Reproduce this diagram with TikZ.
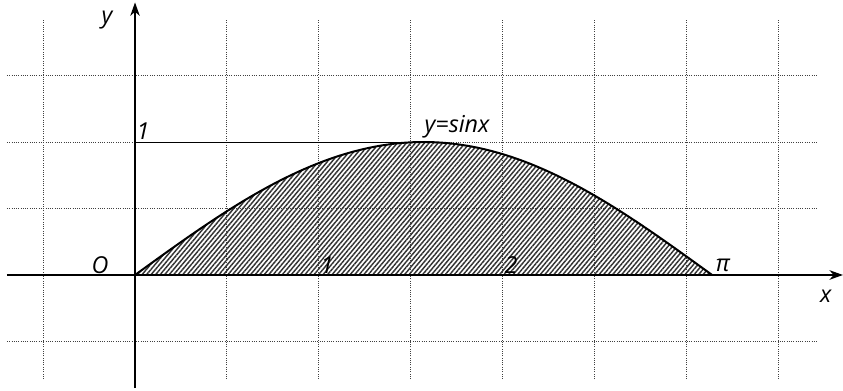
\documentclass[tikz,border=0pt]{standalone}
\usepackage{fontspec}
\setmainfont{Open Sans}
\usetikzlibrary{arrows.meta,patterns.meta}

\begin{document}
\begin{tikzpicture}[x=137.8pt, y=99.75pt,
  rejilla/.style={densely dotted, line width=0.7pt, black!75},
  eje/.style={-{Stealth[length=10pt,width=7pt,inset=3pt]}, line width=2.1pt},
  curva/.style={line width=1.5pt},
  rayado/.style={pattern={Lines[angle=50, distance=2.6pt, line width=1.1pt]}, pattern color=black!80},
  etiqueta/.style={font=\fontsize{17.5}{20}\selectfont\itshape, inner sep=0pt}]
\useasboundingbox (-0.735,-0.865) rectangle (3.854,2.068);
\foreach \i in {-0.5,0.5,1,1.5,2,2.5,3,3.5}
  \draw[rejilla] (\i,-0.782) -- (\i,1.917);
\foreach \j in {-0.5,0.5,1,1.5}
  \draw[rejilla] (-0.697,\j) -- (3.718,\j);
\fill[rayado] plot[domain=0:pi, samples=80, smooth] (\x,{sin(\x r)}) -- cycle;
\coordinate (origen) at (0,0);
\coordinate (cima) at ({pi/2},1);
\coordinate (uno) at (0,1);
\draw[line width=0.7pt] (uno) -- (cima);
\draw[curva] plot[domain=0:pi, samples=80, smooth] (\x,{sin(\x r)});
\coordinate (xini) at (-0.697,0);
\coordinate (xfin) at (3.854,0);
\coordinate (yini) at (0,-0.85);
\coordinate (yfin) at (0,2.05);
\draw[eje] (xini) -- (xfin);
\draw[eje] (yini) -- (yfin);
\node[etiqueta] (ly) at (-0.152,1.917) {y};
\node[etiqueta] (luno) at (0.044,1.083) {1};
\node[etiqueta] (lO) at (-0.19,0.075) {O};
\node[etiqueta] (lx1) at (1.045,0.075) {1};
\node[etiqueta] (lx2) at (2.047,0.075) {2};
\node[etiqueta] (lpi) at (3.2,0.075) {π};
\node[etiqueta] (lsen) at (1.753,1.113) {y=sinx};
\node[etiqueta] (lx) at (3.76,-0.158) {x};
\end{tikzpicture}
\end{document}
